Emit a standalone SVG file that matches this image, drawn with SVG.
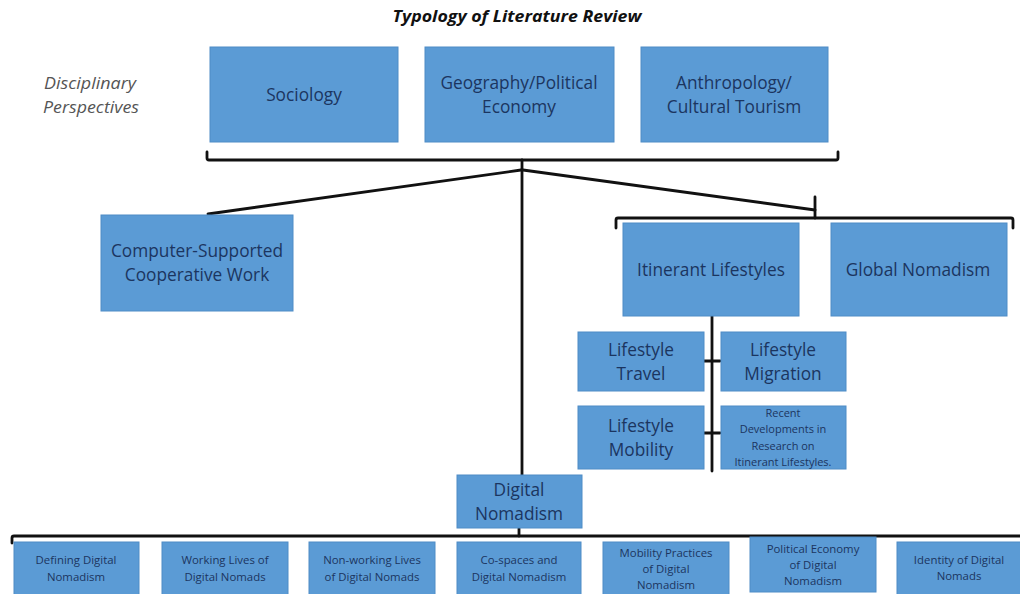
<svg xmlns="http://www.w3.org/2000/svg" width="1020" height="594" viewBox="0 0 1020 594">
<style>
.box{fill:#5b9bd5;stroke:#4f8cc6;stroke-width:1}
.t{font-family:"Open Sans","Liberation Sans",sans-serif;fill:#1b3560;text-anchor:middle}
.l{font-size:17.3px}
.s{font-size:11.4px}
.xs{font-size:11px}
.c{fill:none;stroke:#111;stroke-width:2.8;stroke-linecap:round;stroke-linejoin:round}
</style>
<rect width="1020" height="594" fill="#fff"/>
<text x="517" y="22" font-family="'Open Sans','Liberation Sans',sans-serif" font-size="15.5" font-weight="bold" font-style="italic" fill="#111" text-anchor="middle" textLength="249" lengthAdjust="spacingAndGlyphs">Typology of Literature Review</text>
<g id="label-disciplinary" font-family="'Open Sans','Liberation Sans',sans-serif" font-size="16.5" font-style="italic" fill="#555" text-anchor="middle">
<text x="90" y="89" textLength="92" lengthAdjust="spacingAndGlyphs">Disciplinary</text>
<text x="91" y="113" textLength="96" lengthAdjust="spacingAndGlyphs">Perspectives</text>
</g>
<g id="connectors">
<path class="c" d="M207,152 V158 Q207,160 209,160 H836 Q838,160 838,158 V152"/>
<path class="c" d="M522,160 V475"/>
<path class="c" d="M521,170 L208,214"/>
<path class="c" d="M523,170 L815,210"/>
<path class="c" d="M815,197 V218"/>
<path class="c" d="M616,228 V220 Q616,218 618,218 H1011 Q1013,218 1013,220 V228"/>
<path class="c" d="M712,316 V471"/>
<path class="c" d="M704,361 H720"/>
<path class="c" d="M704,433 H720"/>
<path class="c" d="M519,528 V536"/>
<path class="c" d="M12,543 V538 Q12,536 14,536 H1022"/>
</g>
<g id="sociology"><rect class="box" x="210" y="47" width="188" height="95"/><text class="t l" x="304" y="101">Sociology</text></g>
<g id="geography"><rect class="box" x="425" y="47" width="189" height="95"/><text class="t l" x="519" y="89">Geography/Political</text><text class="t l" x="519" y="113">Economy</text></g>
<g id="anthropology"><rect class="box" x="641" y="47" width="187" height="95"/><text class="t l" x="734" y="89">Anthropology/</text><text class="t l" x="734" y="113">Cultural Tourism</text></g>
<g id="cscw"><rect class="box" x="101" y="215" width="192" height="96"/><text class="t l" x="197" y="257">Computer-Supported</text><text class="t l" x="197" y="281">Cooperative Work</text></g>
<g id="itinerant"><rect class="box" x="623" y="223" width="176" height="93"/><text class="t l" x="711" y="276">Itinerant Lifestyles</text></g>
<g id="global"><rect class="box" x="831" y="223" width="176" height="93"/><text class="t l" x="918" y="276">Global Nomadism</text></g>
<g id="travel"><rect class="box" x="578" y="332" width="126" height="59"/><text class="t l" x="641" y="356">Lifestyle</text><text class="t l" x="641" y="380">Travel</text></g>
<g id="migration"><rect class="box" x="721" y="332" width="125" height="59"/><text class="t l" x="783" y="356">Lifestyle</text><text class="t l" x="783" y="380">Migration</text></g>
<g id="mobility"><rect class="box" x="578" y="406" width="126" height="63"/><text class="t l" x="641" y="432">Lifestyle</text><text class="t l" x="641" y="456">Mobility</text></g>
<g id="recent"><rect class="box" x="721" y="406" width="125" height="63"/><text class="t xs" x="783" y="417">Recent</text><text class="t xs" x="783" y="433">Developments in</text><text class="t xs" x="783" y="450">Research on</text><text class="t xs" x="783" y="466">Itinerant Lifestyles.</text></g>
<g id="digital"><rect class="box" x="457" y="475" width="125" height="53"/><text class="t l" x="519" y="496">Digital</text><text class="t l" x="519" y="520">Nomadism</text></g>
<g id="b1"><rect class="box" x="14" y="542" width="125" height="56"/><text class="t s" x="76" y="564">Defining Digital</text><text class="t s" x="76" y="581">Nomadism</text></g>
<g id="b2"><rect class="box" x="162" y="542" width="126" height="56"/><text class="t s" x="225" y="564">Working Lives of</text><text class="t s" x="225" y="581">Digital Nomads</text></g>
<g id="b3"><rect class="box" x="309" y="542" width="126" height="56"/><text class="t s" x="372" y="564">Non-working Lives</text><text class="t s" x="372" y="581">of Digital Nomads</text></g>
<g id="b4"><rect class="box" x="457" y="542" width="124" height="56"/><text class="t s" x="519" y="564">Co-spaces and</text><text class="t s" x="519" y="581">Digital Nomadism</text></g>
<g id="b5"><rect class="box" x="603" y="542" width="126" height="56"/><text class="t s" x="666" y="557">Mobility Practices</text><text class="t s" x="666" y="573">of Digital</text><text class="t s" x="666" y="589">Nomadism</text></g>
<g id="b6"><rect class="box" x="750" y="537" width="126" height="55"/><text class="t s" x="813" y="553">Political Economy</text><text class="t s" x="813" y="569">of Digital</text><text class="t s" x="813" y="585">Nomadism</text></g>
<g id="b7"><rect class="box" x="897" y="542" width="125" height="56"/><text class="t s" x="959" y="564">Identity of Digital</text><text class="t s" x="959" y="580">Nomads</text></g>
</svg>
